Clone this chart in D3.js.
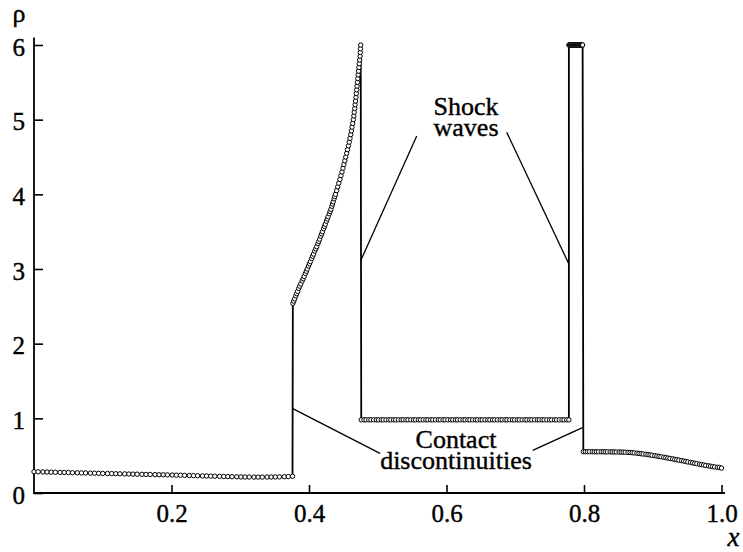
<!DOCTYPE html>
<html>
<head>
<meta charset="utf-8">
<script src="https://cdn.jsdelivr.net/npm/d3@7"></script>
<style>
  html, body { margin: 0; padding: 0; background: #fff; }
  svg { display: block; }
</style>
</head>
<body>
<svg id="chart" width="743" height="552"></svg>
<script>
// Density profile rho(x): each entry is [x, rho]
const leftState = [
  [0.000,0.285],[0.006,0.284],[0.013,0.282],[0.019,0.281],[0.025,0.279],[0.031,0.278],
  [0.038,0.276],[0.044,0.275],[0.050,0.274],[0.056,0.272],[0.063,0.271],[0.069,0.269],
  [0.075,0.268],[0.082,0.266],[0.088,0.265],[0.094,0.263],[0.100,0.262],[0.107,0.261],
  [0.113,0.260],[0.119,0.258],[0.125,0.257],[0.132,0.256],[0.138,0.254],[0.144,0.253],
  [0.150,0.252],[0.157,0.250],[0.163,0.249],[0.169,0.248],[0.176,0.246],[0.182,0.245],
  [0.188,0.244],[0.194,0.242],[0.201,0.241],[0.207,0.239],[0.213,0.238],[0.219,0.236],
  [0.226,0.234],[0.232,0.233],[0.238,0.231],[0.245,0.229],[0.251,0.228],[0.257,0.226],
  [0.263,0.225],[0.270,0.223],[0.276,0.221],[0.282,0.220],[0.288,0.218],[0.295,0.217],
  [0.301,0.215],[0.307,0.214],[0.313,0.214],[0.320,0.213],[0.326,0.213],[0.332,0.213],
  [0.339,0.214],[0.345,0.214],[0.351,0.215],[0.357,0.216],[0.364,0.218],[0.370,0.220],
  [0.376,0.224]
];

const compressedLayer = [
  [0.3765,2.54],[0.3778,2.57],[0.3791,2.60],[0.3808,2.64],[0.3821,2.67],[0.3834,2.70],
  [0.3851,2.74],[0.3865,2.77],[0.3880,2.80],[0.3900,2.84],[0.3915,2.87],[0.3930,2.90],
  [0.3948,2.94],[0.3962,2.97],[0.3975,3.00],[0.3993,3.04],[0.4007,3.07],[0.4020,3.10],
  [0.4038,3.14],[0.4052,3.17],[0.4066,3.20],[0.4084,3.24],[0.4098,3.27],[0.4112,3.30],
  [0.4130,3.34],[0.4142,3.37],[0.4155,3.40],[0.4171,3.44],[0.4184,3.47],[0.4196,3.50],
  [0.4213,3.54],[0.4225,3.57],[0.4237,3.60],[0.4254,3.64],[0.4266,3.67],[0.4278,3.70],
  [0.4295,3.74],[0.4307,3.77],[0.4319,3.80],[0.4332,3.84],[0.4342,3.87],[0.4352,3.90],
  [0.4365,3.94],[0.4375,3.97],[0.4385,4.00],[0.4402,4.05],[0.4418,4.10],[0.4434,4.15],
  [0.4450,4.20],[0.4465,4.25],[0.4480,4.30],[0.4494,4.35],[0.4508,4.40],[0.4521,4.45],
  [0.4535,4.50],[0.4548,4.55],[0.4561,4.60],[0.4574,4.65],[0.4585,4.70],[0.4596,4.75],
  [0.4607,4.80],[0.4617,4.85],[0.4626,4.90],[0.4636,4.95],[0.4645,5.00],[0.4652,5.05],
  [0.4658,5.10],[0.4665,5.15],[0.4671,5.20],[0.4677,5.25],[0.4683,5.30],[0.4688,5.35],
  [0.4694,5.40],[0.4699,5.45],[0.4705,5.50],[0.4710,5.55],[0.4715,5.60],[0.4721,5.65],
  [0.4726,5.70],[0.4731,5.75],[0.4737,5.80],[0.4743,5.85],[0.4746,5.90],[0.4749,5.95],
  [0.4752,6.00]
];

const centralPlateau = [
  [0.476,0.98],[0.480,0.98],[0.483,0.98],[0.487,0.98],[0.490,0.98],[0.494,0.98],
  [0.498,0.98],[0.501,0.98],[0.505,0.98],[0.508,0.98],[0.512,0.98],[0.516,0.98],
  [0.519,0.98],[0.523,0.98],[0.526,0.98],[0.530,0.98],[0.534,0.98],[0.537,0.98],
  [0.541,0.98],[0.544,0.98],[0.548,0.98],[0.552,0.98],[0.555,0.98],[0.559,0.98],
  [0.562,0.98],[0.566,0.98],[0.570,0.98],[0.573,0.98],[0.577,0.98],[0.580,0.98],
  [0.584,0.98],[0.588,0.98],[0.591,0.98],[0.595,0.98],[0.598,0.98],[0.602,0.98],
  [0.606,0.98],[0.609,0.98],[0.613,0.98],[0.616,0.98],[0.620,0.98],[0.624,0.98],
  [0.627,0.98],[0.631,0.98],[0.634,0.98],[0.638,0.98],[0.642,0.98],[0.645,0.98],
  [0.649,0.98],[0.652,0.98],[0.656,0.98],[0.660,0.98],[0.663,0.98],[0.667,0.98],
  [0.670,0.98],[0.674,0.98],[0.678,0.98],[0.681,0.98],[0.685,0.98],[0.688,0.98],
  [0.692,0.98],[0.696,0.98],[0.699,0.98],[0.703,0.98],[0.706,0.98],[0.710,0.98],
  [0.714,0.98],[0.717,0.98],[0.721,0.98],[0.724,0.98],[0.728,0.98],[0.732,0.98],
  [0.735,0.98],[0.739,0.98],[0.742,0.98],[0.746,0.98],[0.750,0.98],[0.753,0.98],
  [0.757,0.98],[0.760,0.98],[0.764,0.98],[0.768,0.98],[0.771,0.98],[0.775,0.98],
  [0.778,0.98]
];

const spikeLayer = [
  [0.7780,6.0],[0.7787,6.0],[0.7794,6.0],[0.7801,6.0],[0.7808,6.0],[0.7815,6.0],
  [0.7822,6.0],[0.7829,6.0],[0.7836,6.0],[0.7843,6.0],[0.7850,6.0],[0.7857,6.0],
  [0.7864,6.0],[0.7871,6.0],[0.7878,6.0],[0.7885,6.0],[0.7892,6.0],[0.7899,6.0],
  [0.7906,6.0],[0.7913,6.0],[0.7920,6.0],[0.7927,6.0],[0.7934,6.0],[0.7941,6.0],
  [0.7948,6.0],[0.7955,6.0],[0.7962,6.0],[0.7968,6.0],[0.7974,6.0],[0.7980,6.0]
];

const rightState = [
  [0.799,0.553],[0.802,0.553],[0.805,0.553],[0.808,0.553],[0.812,0.553],[0.815,0.552],
  [0.818,0.552],[0.821,0.552],[0.825,0.552],[0.828,0.552],[0.831,0.551],[0.834,0.551],
  [0.838,0.551],[0.841,0.550],[0.844,0.550],[0.847,0.549],[0.851,0.549],[0.854,0.548],
  [0.857,0.547],[0.860,0.546],[0.864,0.544],[0.867,0.542],[0.870,0.540],[0.873,0.537],
  [0.877,0.533],[0.880,0.530],[0.883,0.526],[0.886,0.522],[0.890,0.518],[0.893,0.514],
  [0.896,0.510],[0.899,0.505],[0.903,0.500],[0.906,0.495],[0.909,0.490],[0.912,0.485],
  [0.916,0.479],[0.919,0.474],[0.922,0.468],[0.925,0.463],[0.929,0.457],[0.932,0.451],
  [0.935,0.446],[0.938,0.440],[0.942,0.434],[0.945,0.428],[0.948,0.422],[0.951,0.416],
  [0.955,0.410],[0.958,0.404],[0.961,0.398],[0.964,0.392],[0.968,0.386],[0.971,0.380],
  [0.974,0.375],[0.977,0.369],[0.981,0.364],[0.984,0.359],[0.987,0.354],[0.990,0.349],
  [0.994,0.345],[0.997,0.342],[1.000,0.334]
];

const xTicks = [0.2, 0.4, 0.6, 0.8, 1.0];
const yTicks = [0, 1, 2, 3, 4, 5, 6];

// Leader lines for the labels: [x1, rho1, x2, rho2]
const shockLeaders = [
  [0.5567, 4.78, 0.4756, 3.12],
  [0.6876, 4.83, 0.7773, 3.08]
];
const contactLeaders = [
  [0.5033, 0.53, 0.3764, 1.13],
  [0.7254, 0.57, 0.7978, 0.875]
];

const profile = [].concat(leftState, compressedLayer, centralPlateau, spikeLayer, rightState);

const FONT = "Liberation Serif";

const svg = d3.select("#chart");
svg.append("rect").attr("width", 743).attr("height", 552).attr("fill", "#fff");

const x = d3.scaleLinear().domain([0, 1]).range([34, 721.5]);
const y = d3.scaleLinear().domain([0, 6]).range([493, 45]);

// axes
const yAxis = d3.axisLeft(y).tickValues(yTicks).tickFormat(d3.format("d"))
  .tickSizeInner(-9).tickSizeOuter(0).tickPadding(9);
const gy = svg.append("g").attr("transform", `translate(${x(0)},0)`).call(yAxis);
gy.select(".domain").remove();
gy.selectAll(".tick line").attr("stroke", "#000").attr("stroke-width", 1.6);
gy.selectAll(".tick text").attr("font-size", 25).attr("dy", "0.40em");

const xAxis = d3.axisBottom(x).tickValues(xTicks).tickFormat(d3.format(".1f"))
  .tickSizeInner(-8).tickSizeOuter(0).tickPadding(11);
const gx = svg.append("g").attr("transform", `translate(0,${y(0)})`).call(xAxis);
gx.select(".domain").remove();
gx.selectAll(".tick line").attr("stroke", "#000").attr("stroke-width", 1.6);
gx.selectAll(".tick text").attr("font-size", 25);

svg.append("line")
  .attr("x1", x(0)).attr("x2", x(0)).attr("y1", y(0)).attr("y2", y(6.1))
  .attr("stroke", "#000").attr("stroke-width", 1.8);
svg.append("line")
  .attr("x1", x(0) - 0.9).attr("x2", x(1.005)).attr("y1", y(0)).attr("y2", y(0))
  .attr("stroke", "#000").attr("stroke-width", 1.8);

svg.append("text").attr("x", x(0) - 15).attr("y", y(6) - 23)
  .attr("text-anchor", "middle").attr("font-size", 26).text("ρ");
svg.append("text").attr("x", x(1.0) + 12).attr("y", y(0) + 53)
  .attr("text-anchor", "middle").attr("font-size", 27).attr("font-style", "italic").text("x");

// profile line and sample points
const line = d3.line().x(d => x(d[0])).y(d => y(d[1]));
svg.append("path").datum(profile).attr("d", line)
  .attr("fill", "none").attr("stroke", "#000").attr("stroke-width", 1.8)
  .attr("stroke-linejoin", "round");

svg.append("g").selectAll("circle").data(profile).join("circle")
  .attr("cx", d => x(d[0])).attr("cy", d => y(d[1])).attr("r", 2.2)
  .attr("fill", "#fff").attr("stroke", "#000").attr("stroke-width", 1.0);

// annotations
const leaders = svg.append("g").attr("stroke", "#000").attr("stroke-width", 1.3);
leaders.selectAll("line").data(shockLeaders.concat(contactLeaders)).join("line")
  .attr("x1", d => x(d[0])).attr("y1", d => y(d[1]))
  .attr("x2", d => x(d[2])).attr("y2", d => y(d[3]));

const note = (lines, cx, baseY) => {
  const t = svg.append("text").attr("text-anchor", "middle").attr("font-size", 26);
  lines.forEach((s, i) => t.append("tspan").attr("x", cx).attr("y", baseY + i * 21).text(s));
};
note(["Shock", "waves"], x(0.6284), 115);
note(["Contact", "discontinuities"], x(0.6138), 448);

// serif face, slightly heavier strokes, for every label
svg.selectAll("text")
  .style("font-family", FONT)
  .style("fill", "#000")
  .style("stroke", "#000")
  .style("stroke-width", "0.4px");
</script>
</body>
</html>
